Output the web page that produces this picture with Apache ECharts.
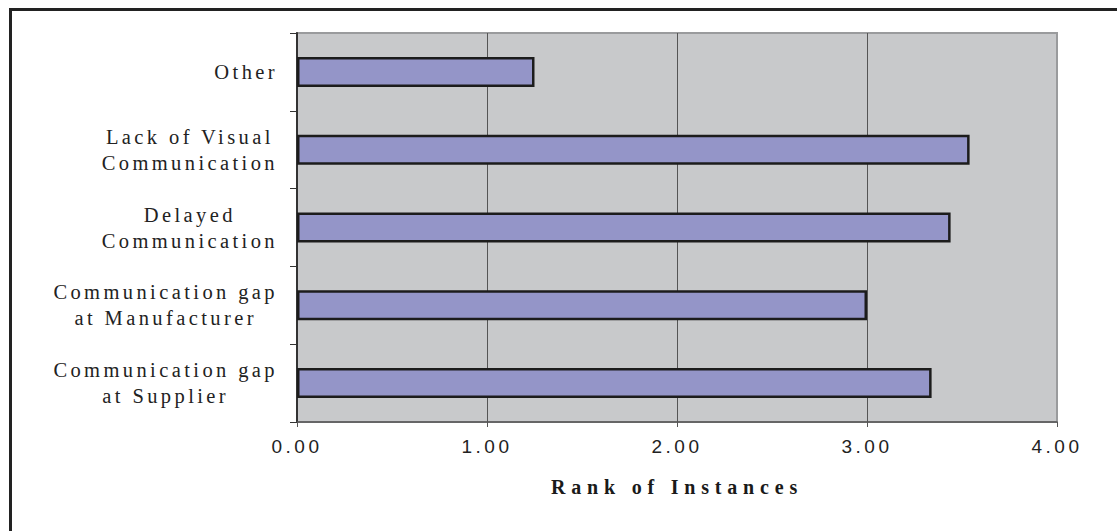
<!DOCTYPE html>
<html>
<head>
<meta charset="utf-8">
<script src="https://cdn.jsdelivr.net/npm/echarts@6/dist/echarts.min.js"></script>
<style>
  html, body { margin: 0; padding: 0; background: #fff; }
  #chart { width: 1117px; height: 531px; }
  /* spaced-out lettering for the three kinds of text */
  #chart text[style*="Liberation Sans"] { letter-spacing: 3.5px; }
  #chart text[style*="Liberation Serif"] { letter-spacing: 3.4px; }
  #chart text[style*="bold"] { letter-spacing: 5.8px; }
</style>
</head>
<body>
<div id="chart"></div>
<script>
// Categories listed bottom to top (category axis runs upward)
const categories = [
  'Communication gap\nat Supplier',
  'Communication gap\nat Manufacturer',
  'Delayed\nCommunication',
  'Lack of Visual\nCommunication',
  'Other'
];
const rankValues = [3.34, 3.00, 3.44, 3.54, 1.25];
const tickLabels = ['0.00', '1.00', '2.00', '3.00', '4.00'];
const axisTitle = 'Rank of Instances';

// Letter spacing per font, kept in step with the stylesheet above so that
// layout measurements agree with what the SVG text actually occupies.
function spacingFor(font) {
  if (/bold/.test(font)) return 5.8;
  if (/Liberation Serif/.test(font)) return 3.4;
  if (/Liberation Sans/.test(font)) return 3.5;
  return 0;
}
const measureCtx = document.createElement('canvas').getContext('2d');
if (echarts.setPlatformAPI) {
  echarts.setPlatformAPI({
    measureText: function (text, font) {
      measureCtx.font = font || '12px sans-serif';
      const m = measureCtx.measureText(text);
      return {
        width: m.width + spacingFor(font || '') * String(text).length,
        actualBoundingBoxAscent: m.actualBoundingBoxAscent,
        actualBoundingBoxDescent: m.actualBoundingBoxDescent
      };
    }
  });
}

const chart = echarts.init(document.getElementById('chart'), null, { renderer: 'svg' });

chart.setOption({
  animation: false,
  graphic: [{
    type: 'rect',
    silent: true,
    z: 100,
    shape: { x: 10.5, y: 9.5, width: 1200, height: 600 },
    style: { fill: 'none', stroke: '#222', lineWidth: 3 }
  }],
  grid: {
    left: 297, right: 60, top: 33, bottom: 109,
    show: true,
    backgroundColor: '#C8C9CB',
    borderColor: '#9A9B9D',
    borderWidth: 2
  },
  xAxis: {
    type: 'value',
    min: 0, max: 4, interval: 1,
    axisLine: { show: true, lineStyle: { color: '#555', width: 1.5 } },
    axisTick: { show: true, length: 5, lineStyle: { color: '#555', width: 1 } },
    splitLine: { show: true, showMaxLine: false, showMinLine: false, lineStyle: { color: '#555', width: 1 } },
    axisLabel: {
      formatter: function (v) { return tickLabels[Math.round(v)]; },
      fontFamily: 'Liberation Sans',
      fontSize: 19,
      color: '#222',
      margin: 13
    },
    name: axisTitle,
    nameLocation: 'middle',
    nameGap: 52,
    nameTextStyle: {
      fontFamily: 'Liberation Serif',
      fontWeight: 'bold',
      fontSize: 20,
      color: '#1a1a1a'
    }
  },
  yAxis: {
    type: 'category',
    data: categories,
    axisLine: { show: true, lineStyle: { color: '#333', width: 2 } },
    axisTick: { show: true, length: 7, lineStyle: { color: '#333', width: 1 } },
    splitLine: { show: false },
    axisLabel: {
      margin: 19,
      fontFamily: 'Liberation Serif',
      fontSize: 20.5,
      lineHeight: 26,
      color: '#222',
      formatter: function (v) {
        return v.split('\n').map(function (l) { return '{c|' + l + '}'; }).join('\n');
      },
      rich: {
        c: {
          align: 'center',
          fontFamily: 'Liberation Serif',
          fontSize: 20.5,
          lineHeight: 26,
          color: '#222'
        }
      }
    }
  },
  series: [{
    type: 'bar',
    data: rankValues,
    barWidth: 30,
    itemStyle: { color: '#9495C8', borderColor: '#1c1c1c', borderWidth: 2.5 }
  }]
});
</script>
</body>
</html>
